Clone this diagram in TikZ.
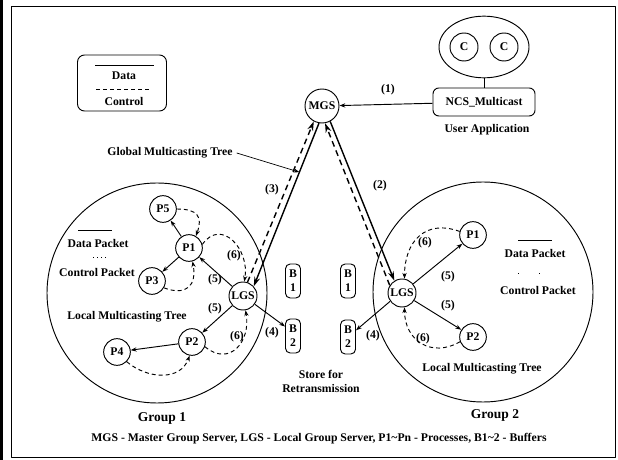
\documentclass[tikz,border=0pt]{standalone}
\usepackage{fontspec}
\setmainfont{Liberation Serif}
\usetikzlibrary{calc,arrows.meta,shapes.geometric}
\tikzset{netdiag/.style={
  x=0.03cm, y=-0.03cm,
  >={Stealth[length=5pt,width=3.6pt]},line join=round,
  font=\bfseries\fontsize{10}{12}\selectfont
},
srv/.style={circle,draw,line width=0.8pt,minimum size=1.02cm,inner sep=0pt},
lgs/.style={circle,draw,line width=0.8pt,minimum size=0.84cm,inner sep=0pt},
proc/.style={circle,draw,line width=0.8pt,minimum size=0.8cm,inner sep=0pt},
grp/.style={circle,draw,line width=0.8pt,minimum size=6.6cm},
buf/.style={draw,rounded corners=4pt,line width=0.8pt,minimum width=0.45cm,
  minimum height=1.02cm,inner sep=0pt,align=center},
data/.style={line width=0.8pt},
ctrl/.style={line width=0.8pt,dash pattern=on 3.4pt off 2.6pt},
gdata/.style={line width=1.2pt,-{Stealth[length=8pt,width=5pt]}},
gctrl/.style={line width=1.2pt,dash pattern=on 5pt off 3.5pt,-{Stealth[length=8pt,width=5pt]}}
}

\begin{document}
\begin{tikzpicture}[netdiag]
  \useasboundingbox (0,0) rectangle (618,460);
  \fill (0,0) rectangle (3,460);
  \draw[line width=0.8pt] (11,6) rectangle (615,457);

  % legend
  \node[draw,rounded corners=6pt,line width=0.8pt,minimum width=2.67cm,minimum height=1.68cm] (legend) at (122,83) {};
  \draw[data] (95,65) -- (154,65);
  \node (legdata) at (124,76) {Data};
  \draw[ctrl] (96,89) -- (150,89);
  \node (legctrl) at (124,101) {Control};

  % user application
  \node[ellipse,draw,line width=0.8pt,minimum width=2.7cm,minimum height=1.85cm] (app) at (484,47) {};
  \node[proc,minimum size=0.84cm] (C1) at (464,47) {C};
  \node[proc,minimum size=0.84cm] (C2) at (504,47) {C};
  \node[draw,rounded corners=5pt,line width=0.8pt,minimum width=3.06cm,minimum height=0.84cm] (ncs) at (484,102) {NCS\_Multicast};
  \node (userapp) at (487,130) {User Application};
  \draw[data] (app) -- (ncs);

  \node[srv] (MGS) at (322,106) {MGS};
  \draw[data,->] (ncs) -- (MGS);
  \node at (388,90) {(1)};

  % group 1
  \node[grp] (grpA) at (157,293) {};
  \node[lgs] (LGSa) at (243,296) {LGS};
  \node[proc] (P1a) at (189,248) {P1};
  \node[proc] (P5a) at (163,209) {P5};
  \node[proc] (P3a) at (152,281) {P3};
  \node[proc] (P2a) at (192,342) {P2};
  \node[proc] (P4a) at (117,352) {P4};

  % buffers
  \node[buf] (B1a) at (293,281) {B\\1};
  \node[buf] (B2a) at (293,336) {B\\2};
  \node[buf] (B1b) at (348,281) {B\\1};
  \node[buf] (B2b) at (348,337) {B\\2};
  \node[align=center] (store) at (321,381) {Store for\\Retransmission};

  % group 2
  \node[grp] (grpB) at (483,292) {};
  \node[lgs] (LGSb) at (402,293) {LGS};
  \node[proc] (P1b) at (473,235) {P1};
  \node[proc] (P2b) at (473,337) {P2};

  % global multicasting tree
  \draw[gdata] (MGS.-100) -- (LGSa.42);
  \draw[gctrl] (LGSa.72) -- (MGS.-118);
  \draw[gdata] (MGS.-62) -- (LGSb.122);
  \draw[gctrl] (LGSb.148) -- (MGS.-80);
  \node at (272,190) {(3)};
  \node at (380,186) {(2)};
  \coordinate (gmt) at ($(MGS.-100)!0.3!(LGSa.42)$);
  \node (gmtlabel) at (170,153) {Global Multicasting Tree};
  \draw[line width=0.6pt,->] (gmtlabel.east) -- (gmt);

  % local tree 1
  \draw[data,->] (LGSa) -- (P1a);
  \draw[data,->] (LGSa) -- (P2a);
  \draw[data,->] (P1a) -- (P5a);
  \draw[data,->] (P1a) -- (P3a);
  \draw[data,->] (P2a) -- (P4a);
  \draw[data,->] (LGSa.-35) -- (B2a.130);
  \draw[ctrl,->] (P5a.east) to[out=0,in=70,looseness=1.6] (P1a.60);
  \draw[ctrl,->] (P3a.-30) to[out=-20,in=-80,looseness=1.6] (P1a.-75);
  \draw[ctrl,->] (P1a.15) to[out=55,in=80,looseness=1.5] (LGSa.85);
  \draw[ctrl,->] (P2a.-20) to[out=-40,in=-80,looseness=1.5] (LGSa.-80);
  \draw[ctrl,->] (P4a.-45) to[out=-40,in=-110,looseness=1.1] (P2a.-100);
  \node at (215,280) {(5)};
  \node at (215,309) {(5)};
  \node at (234,256) {(6)};
  \node at (237,337) {(6)};
  \node at (272,333) {(4)};
  \draw[data] (78,230) -- (112,230);
  \node at (98,243) {Data Packet};
  \draw[line width=0.8pt,dash pattern=on 1pt off 2.5pt] (93,257) -- (107,257);
  \node at (97,272) {Control Packet};
  \node at (127,317) {Local Multicasting Tree};
  \node[font=\bfseries\fontsize{11.5}{13}\selectfont] at (162,418) {Group 1};

  % local tree 2
  \draw[data,->] (LGSb) -- (P1b);
  \draw[data,->] (LGSb) -- (P2b);
  \draw[data,->] (LGSb.-145) -- (B2b.40);
  \draw[ctrl,->] (P1b.165) to[out=160,in=90,looseness=1.3] (LGSb.80);
  \draw[ctrl,->] (P2b.-160) to[out=-150,in=-90,looseness=1.3] (LGSb.-80);
  \node at (448,277) {(5)};
  \node at (448,306) {(5)};
  \node at (425,243) {(6)};
  \node at (423,339) {(6)};
  \node at (373,336) {(4)};
  \draw[data] (518,240) -- (552,240);
  \node at (535,253) {Data Packet};
  \draw[line width=0.8pt,dash pattern=on 1pt off 17pt] (518,273) -- (541,273);
  \node at (538,290) {Control Packet};
  \node at (482,369) {Local Multicasting Tree};
  \node[font=\bfseries\fontsize{11.5}{13}\selectfont] at (495,415) {Group 2};

  \node (caption) at (319,439) {MGS - Master Group Server, LGS - Local Group Server, P1\textasciitilde Pn - Processes, B1\textasciitilde 2 - Buffers};
\end{tikzpicture}
\end{document}
